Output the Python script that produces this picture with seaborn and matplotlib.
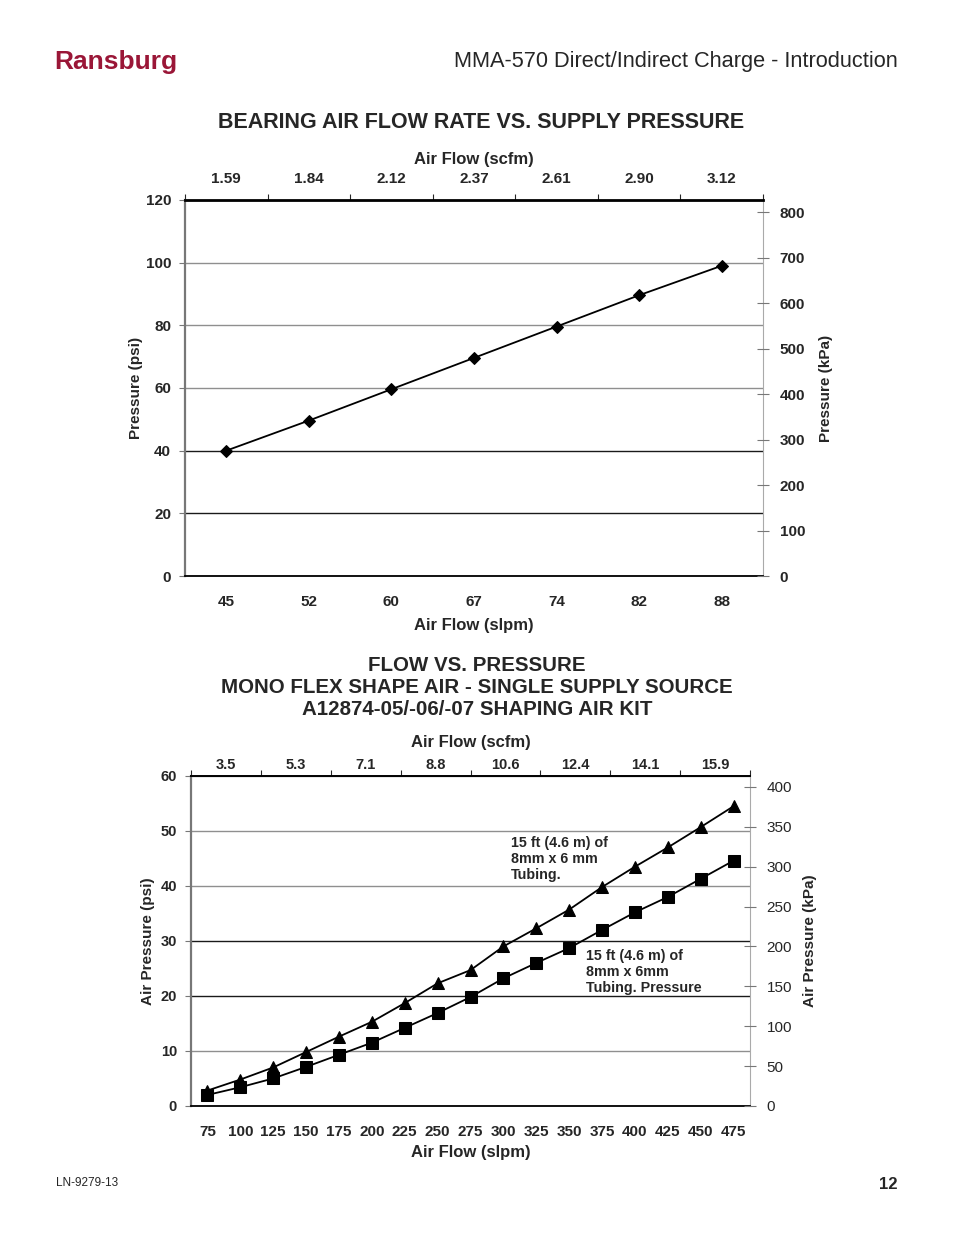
import numpy as np
import pandas as pd
import matplotlib
matplotlib.use("Agg")
import matplotlib.pyplot as plt
import seaborn as sns

# chart values
bearing_slpm = ['45', '52', '60', '67', '74', '82', '88']
bearing_scfm = ['1.59', '1.84', '2.12', '2.37', '2.61', '2.90', '3.12']
bearing_psi = [40, 49.6, 59.6, 69.6, 79.6, 89.6, 99]

shaping_slpm = ['75', '100', '125', '150', '175', '200', '225', '250', '275',
                '300', '325', '350', '375', '400', '425', '450', '475']
shaping_scfm = ['3.5', '5.3', '7.1', '8.8', '10.6', '12.4', '14.1', '15.9']
tubing_upper_psi = [2.8, 4.8, 7.0, 9.8, 12.6, 15.3, 18.7, 22.3, 24.7,
                    29.0, 32.3, 35.7, 39.8, 43.5, 47.0, 50.7, 54.5]
tubing_lower_psi = [2.0, 3.4, 5.0, 7.1, 9.3, 11.5, 14.2, 16.9, 19.8,
                    23.2, 26.0, 28.7, 32.0, 35.2, 38.0, 41.3, 44.6]

PSI_TO_KPA = 6.895

sns.set_theme(style='white')
plt.rcParams['font.family'] = ['Liberation Sans', 'DejaVu Sans']
NARROW = ['Liberation Sans Narrow', 'Liberation Sans', 'DejaVu Sans']
ARIAL = ['Liberation Sans', 'DejaVu Sans']

fig = plt.figure(figsize=(9.54, 12.35), dpi=100)

# ---------------- page header / footer ----------------
fig.text(0.057, 0.950, 'Ransburg', fontsize=19, fontweight='bold', color='#9a1637',
         family=NARROW, ha='left', va='center')
fig.text(0.941, 0.950, 'MMA-570 Direct/Indirect Charge - Introduction', fontsize=15.7,
         family=ARIAL, ha='right', va='center')
fig.text(0.059, 0.042, 'LN-9279-13', fontsize=8.5, family=NARROW, ha='left', va='center')
fig.text(0.941, 0.041, '12', fontsize=12, fontweight='bold', family=ARIAL, ha='right', va='center')


def style_box(ax, top_lw):
    ax.spines['top'].set_color('black')
    ax.spines['top'].set_linewidth(top_lw)
    ax.spines['bottom'].set_color('black')
    ax.spines['bottom'].set_linewidth(1.3)
    ax.spines['left'].set_color('#777777')
    ax.spines['left'].set_linewidth(1.6)
    ax.spines['right'].set_color('#aaaaaa')
    ax.spines['right'].set_linewidth(0.8)


def shade_grid(ax, dark_values):
    # some grid lines in the original print darker than others
    for line, val in zip(ax.get_ygridlines(), ax.get_yticks()):
        if val in dark_values:
            line.set_color('#1a1a1a')


# ---------------- chart 1: bearing air ----------------
fig.text(0.504, 0.901, 'BEARING AIR FLOW RATE VS. SUPPLY PRESSURE', fontsize=15.5,
         fontweight='bold', family=ARIAL, ha='center', va='center')

ax1 = fig.add_axes([0.1939, 0.5336, 0.6059, 0.3045])
df1 = pd.DataFrame({'pos': np.arange(len(bearing_slpm)), 'psi': bearing_psi})
sns.lineplot(data=df1, x='pos', y='psi', ax=ax1, color='black', lw=1.3,
             marker='D', markersize=6, markeredgecolor='black')
n1 = len(bearing_slpm)
ax1.set_xlim(-0.5, n1 - 0.5)
ax1.set_ylim(0, 120)
ax1.set_yticks(np.arange(0, 121, 20))
ax1.set_yticklabels([str(v) for v in range(0, 121, 20)], family=NARROW,
                    fontweight='bold', fontsize=11)
ax1.set_xticks(np.arange(n1))
ax1.set_xticklabels(bearing_slpm, family=NARROW, fontweight='bold', fontsize=11)
ax1.set_xticks(np.arange(n1 + 1) - 0.5, minor=True)
ax1.tick_params(axis='x', which='major', length=0, pad=14)
ax1.tick_params(axis='x', which='minor', length=5, width=0.8, color='black', direction='out')
ax1.tick_params(axis='y', which='major', length=4, width=0.8, color='#777777', direction='out', pad=6)
ax1.yaxis.grid(True, color='#8f8f8f', lw=1.0)
shade_grid(ax1, (20, 40))
ax1.set_axisbelow(True)
style_box(ax1, 2.0)
ax1.set_xlabel('Air Flow (slpm)', family=NARROW, fontweight='bold', fontsize=12, labelpad=6)
ax1.set_ylabel('Pressure (psi)', family=ARIAL, fontweight='bold', fontsize=11, labelpad=2)

top1 = ax1.secondary_xaxis('top')
top1.set_xticks(np.arange(n1))
top1.set_xticklabels(bearing_scfm, family=NARROW, fontweight='bold', fontsize=11)
top1.set_xticks(np.arange(n1 + 1) - 0.5, minor=True)
top1.tick_params(axis='x', which='major', length=0, pad=10)
top1.tick_params(axis='x', which='minor', length=4, width=0.8, direction='out')
top1.spines['top'].set_visible(False)
top1.set_xlabel('Air Flow (scfm)', family=NARROW, fontweight='bold', fontsize=12, labelpad=6)

r1 = ax1.twinx()
r1.set_ylim(0, 120 * PSI_TO_KPA)
r1.set_yticks(np.arange(0, 801, 100))
r1.set_yticklabels([str(v) for v in range(0, 801, 100)], family=NARROW,
                   fontweight='bold', fontsize=11)
r1.tick_params(axis='y', length=8, width=0.8, color='#777777', direction='inout', pad=8)
r1.grid(False)
for s in r1.spines.values():
    s.set_visible(False)
r1.set_ylabel('Pressure (kPa)', family=ARIAL, fontweight='bold', fontsize=11, labelpad=10)

# ---------------- chart 2: shaping air ----------------
fig.text(0.5, 0.4437, 'FLOW VS. PRESSURE\nMONO FLEX SHAPE AIR - SINGLE SUPPLY SOURCE\n'
         'A12874-05/-06/-07 SHAPING AIR KIT', fontsize=14.8, fontweight='bold',
         family=ARIAL, ha='center', va='center', linespacing=1.2)

ax2 = fig.add_axes([0.2002, 0.1045, 0.5860, 0.2672])
n2 = len(shaping_slpm)
df2 = pd.DataFrame({'pos': np.arange(n2), 'upper': tubing_upper_psi, 'lower': tubing_lower_psi})
sns.lineplot(data=df2, x='pos', y='upper', ax=ax2, color='black', lw=1.3,
             marker='^', markersize=8, markeredgecolor='black')
sns.lineplot(data=df2, x='pos', y='lower', ax=ax2, color='black', lw=1.3,
             marker='s', markersize=8, markeredgecolor='black')
ax2.set_xlim(-0.5, n2 - 0.5)
ax2.set_ylim(0, 60)
ax2.set_yticks(np.arange(0, 61, 10))
ax2.set_yticklabels([str(v) for v in range(0, 61, 10)], family=ARIAL,
                    fontweight='bold', fontsize=10.5)
ax2.set_xticks(np.arange(n2))
ax2.set_xticklabels(shaping_slpm, family=NARROW, fontweight='bold', fontsize=11)
ax2.set_xticks(np.arange(n2 + 1) - 0.5, minor=True)
ax2.tick_params(axis='x', which='major', length=0, pad=14)
ax2.tick_params(axis='x', which='minor', length=5, width=0.8, color='black', direction='out')
ax2.tick_params(axis='y', which='major', length=4, width=0.8, color='#777777', direction='out', pad=6)
ax2.yaxis.grid(True, color='#8f8f8f', lw=1.0)
shade_grid(ax2, (20, 30))
ax2.set_axisbelow(True)
style_box(ax2, 1.4)
ax2.set_xlabel('Air Flow (slpm)', family=NARROW, fontweight='bold', fontsize=12, labelpad=4)
ax2.set_ylabel('Air Pressure (psi)', family=ARIAL, fontweight='bold', fontsize=11, labelpad=4)

ax2.text(0.572, 0.818, '15 ft (4.6 m) of\n8mm x 6 mm\nTubing.', transform=ax2.transAxes,
         family=NARROW, fontweight='bold', fontsize=10.3, ha='left', va='top', linespacing=1.2)
ax2.text(0.707, 0.476, '15 ft (4.6 m) of\n8mm x 6mm\nTubing. Pressure', transform=ax2.transAxes,
         family=NARROW, fontweight='bold', fontsize=10.3, ha='left', va='top', linespacing=1.2)

k = len(shaping_scfm)
top2 = ax2.secondary_xaxis('top', functions=(lambda x: (x + 0.5) * k / n2,
                                             lambda x: x * n2 / k - 0.5))
top2.set_xticks(np.arange(k) + 0.5)
top2.set_xticklabels(shaping_scfm, family=ARIAL, fontweight='bold', fontsize=10.5)
top2.set_xticks(np.arange(k + 1), minor=True)
top2.tick_params(axis='x', which='major', length=0, pad=3)
top2.tick_params(axis='x', which='minor', length=4, width=0.8, direction='out')
top2.spines['top'].set_visible(False)
top2.set_xlabel('Air Flow (scfm)', family=NARROW, fontweight='bold', fontsize=12, labelpad=8)

r2 = ax2.twinx()
r2.set_ylim(0, 60 * PSI_TO_KPA)
r2.set_yticks(np.arange(0, 401, 50))
r2.set_yticklabels([str(v) for v in range(0, 401, 50)], family=ARIAL, fontsize=11)
r2.tick_params(axis='y', length=8, width=0.8, color='#777777', direction='inout', pad=8)
r2.grid(False)
for s in r2.spines.values():
    s.set_visible(False)
r2.set_ylabel('Air Pressure (kPa)', family=ARIAL, fontweight='bold', fontsize=11, labelpad=8)

fig.savefig('out.png', dpi=100)
